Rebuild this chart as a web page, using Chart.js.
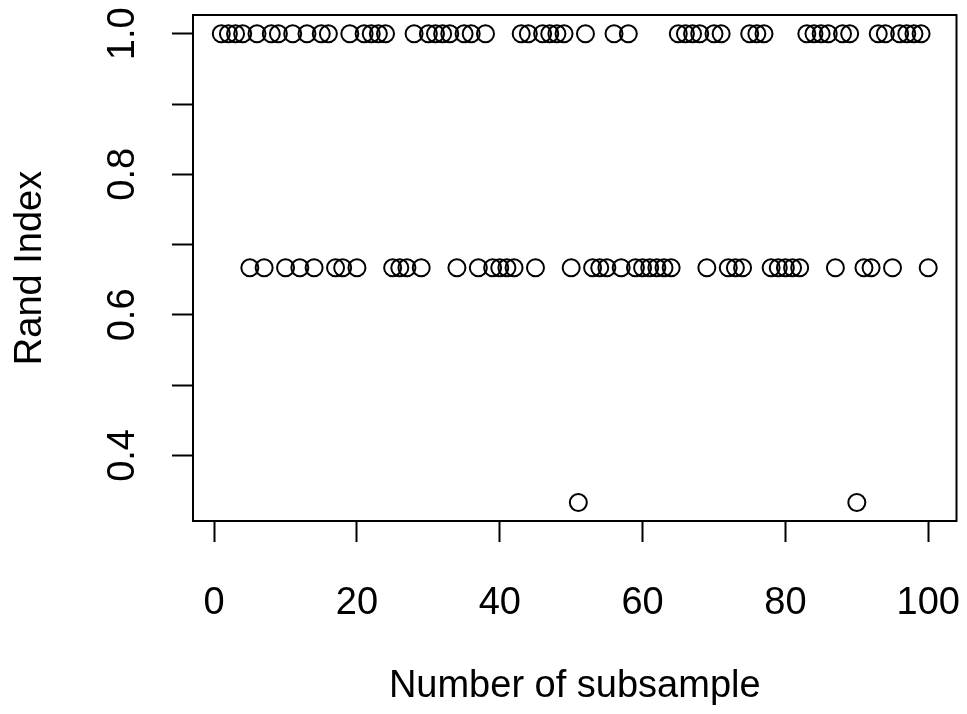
<!DOCTYPE html>
<html>
<head>
<meta charset="utf-8">
<title>Rand Index by subsample</title>
<script src="https://cdn.jsdelivr.net/npm/chart.js@4.4.1/dist/chart.umd.min.js"></script>
<style>
  html, body { margin: 0; padding: 0; background: #fff; }
  #wrap { width: 967px; height: 714px; }
</style>
</head>
<body>
<div id="wrap"><canvas id="chart" width="967" height="714"></canvas></div>
<script>
// subsample number 1..100 on the x axis
const subsample = Array.from({ length: 100 }, (_, i) => i + 1);

// Rand Index for each subsample (1, 2/3 or 1/3)
const randIndex = [
  1, 1, 1, 1, 0.667, 1, 0.667, 1, 1, 0.667,
  1, 0.667, 1, 0.667, 1, 1, 0.667, 0.667, 1, 0.667,
  1, 1, 1, 1, 0.667, 0.667, 0.667, 1, 0.667, 1,
  1, 1, 1, 0.667, 1, 1, 0.667, 1, 0.667, 0.667,
  0.667, 0.667, 1, 1, 0.667, 1, 1, 1, 1, 0.667,
  0.333, 1, 0.667, 0.667, 0.667, 1, 0.667, 1, 0.667, 0.667,
  0.667, 0.667, 0.667, 0.667, 1, 1, 1, 1, 0.667, 1,
  1, 0.667, 0.667, 0.667, 1, 1, 1, 0.667, 0.667, 0.667,
  0.667, 0.667, 1, 1, 1, 1, 0.667, 1, 1, 0.333,
  0.667, 0.667, 1, 1, 0.667, 1, 1, 1, 1, 0.667
];

const xTicks = [0, 20, 40, 60, 80, 100];
const yTicks = [0.4, 0.5, 0.6, 0.7, 0.8, 0.9, 1.0];
const yLabels = [0.4, 0.6, 0.8, 1.0];

const FONT = 'Liberation Sans, Arial, Helvetica, sans-serif';
const FS = 38;

// R style frame plus rotated y tick labels
const rFrame = {
  id: 'rFrame',
  afterDraw(chart) {
    const { ctx, chartArea: a } = chart;
    const y = chart.scales.y;
    ctx.save();
    ctx.strokeStyle = '#000';
    ctx.lineWidth = 2;
    ctx.strokeRect(a.left, a.top, a.right - a.left, a.bottom - a.top);

    ctx.fillStyle = '#000';
    ctx.font = FS + 'px ' + FONT;
    ctx.textAlign = 'center';
    ctx.textBaseline = 'alphabetic';
    yLabels.forEach(v => {
      ctx.save();
      ctx.translate(134, y.getPixelForValue(v));
      ctx.rotate(-Math.PI / 2);
      ctx.fillText(v.toFixed(1), 0, 0);
      ctx.restore();
    });
    ctx.restore();
  }
};

const ctx = document.getElementById('chart').getContext('2d');
new Chart(ctx, {
  type: 'scatter',
  data: {
    datasets: [{
      label: 'Rand Index',
      data: subsample.map((s, i) => ({ x: s, y: randIndex[i] })),
      pointStyle: 'circle',
      pointRadius: 8.5,
      pointHoverRadius: 8.5,
      borderWidth: 2,
      borderColor: '#000',
      backgroundColor: 'rgba(0,0,0,0)'
    }]
  },
  options: {
    responsive: false,
    animation: false,
    events: [],
    layout: { padding: { top: 15, right: 7, left: 0, bottom: 0 } },
    plugins: {
      legend: { display: false },
      tooltip: { enabled: false }
    },
    scales: {
      x: {
        type: 'linear',
        min: -2.96,
        max: 103.96,
        afterFit: s => {
          s.height = 193;
          s.paddingLeft = 0;
          s.paddingRight = 0;
        },
        afterBuildTicks: s => { s.ticks = xTicks.map(v => ({ value: v })); },
        border: { display: false },
        grid: {
          drawOnChartArea: false,
          drawTicks: true,
          tickLength: 21,
          color: '#000',
          tickColor: '#000',
          tickWidth: 2
        },
        ticks: {
          autoSkip: false,
          maxRotation: 0,
          padding: 39,
          color: '#000',
          font: { family: FONT, size: FS }
        },
        title: {
          display: true,
          text: 'Number of subsample',
          color: '#000',
          font: { family: FONT, size: FS },
          padding: { top: 0, bottom: 5 }
        }
      },
      y: {
        type: 'linear',
        min: 0.3067,
        max: 1.0267,
        afterFit: s => {
          s.width = 193;
          s.paddingTop = 0;
          s.paddingBottom = 0;
        },
        afterBuildTicks: s => { s.ticks = yTicks.map(v => ({ value: v })); },
        border: { display: false },
        grid: {
          drawOnChartArea: false,
          drawTicks: true,
          tickLength: 21,
          color: '#000',
          tickColor: '#000',
          tickWidth: 2
        },
        ticks: { display: false },
        title: {
          display: true,
          text: 'Rand Index',
          color: '#000',
          font: { family: FONT, size: FS },
          padding: { top: 8, bottom: 0 }
        }
      }
    }
  },
  plugins: [rFrame]
});
</script>
</body>
</html>
